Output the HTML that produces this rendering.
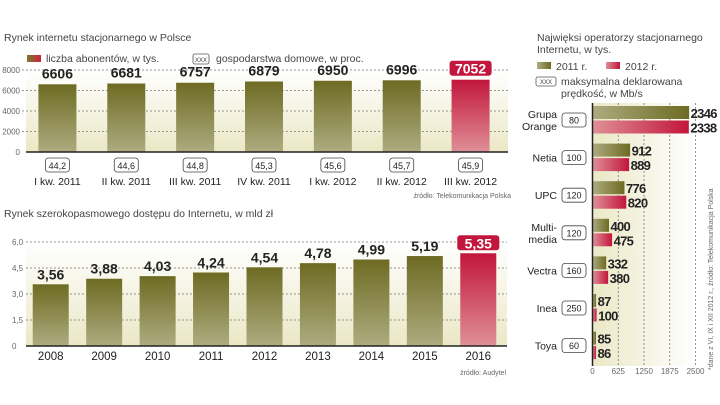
<!DOCTYPE html>
<html><head><meta charset="utf-8">
<style>
html,body{margin:0;padding:0;background:#fff;}
svg{display:block;font-family:"Liberation Sans","DejaVu Sans",sans-serif;}
.t{fill:#444;font-size:10.5px;}
.tick{fill:#666;font-size:8px;}
.val{fill:#222;font-size:14px;font-weight:bold;}
.val3{fill:#222;font-size:13px;font-weight:bold;letter-spacing:-0.7px;}
.cat{fill:#222;font-size:10.5px;}
</style></head>
<body>
<svg id="c" width="720" height="405" viewBox="0 0 720 405">
<defs>
<linearGradient id="gOl" x1="0" y1="0" x2="0" y2="1"><stop offset="0" stop-color="#6d6b22"/><stop offset="1" stop-color="#aeac80"/></linearGradient>
<linearGradient id="gRd" x1="0" y1="0" x2="0" y2="1"><stop offset="0" stop-color="#c2163c"/><stop offset="1" stop-color="#df9098"/></linearGradient>
<linearGradient id="hOl" x1="0" y1="0" x2="1" y2="0"><stop offset="0" stop-color="#aeac80"/><stop offset="1" stop-color="#6d6b22"/></linearGradient>
<linearGradient id="hRd" x1="0" y1="0" x2="1" y2="0"><stop offset="0" stop-color="#df9098"/><stop offset="1" stop-color="#c2163c"/></linearGradient>
<linearGradient id="bg" x1="0" y1="0" x2="0" y2="1"><stop offset="0" stop-color="#ffffff"/><stop offset="1" stop-color="#ebe8c6"/></linearGradient>
<linearGradient id="bgH" x1="0" y1="0" x2="1" y2="0"><stop offset="0" stop-color="#ebe8c6"/><stop offset="1" stop-color="#ffffff"/></linearGradient>
<linearGradient id="lg" x1="0" y1="0" x2="1" y2="0"><stop offset="0" stop-color="#7a7a30"/><stop offset="1" stop-color="#d0203f"/></linearGradient>
</defs>
<g id="g1"></g>
<g id="g2"></g>
<g id="g3"></g>
</svg>
<script>
const q1Cats=["I kw. 2011","II kw. 2011","III kw. 2011","IV kw. 2011","I kw. 2012","II kw. 2012","III kw. 2012"];
const q1Vals=[6606,6681,6757,6879,6950,6996,7052];
const q1Pct=["44,2","44,6","44,8","45,3","45,6","45,7","45,9"];
const q1Ticks=[0,2000,4000,6000,8000];
const yrCats=["2008","2009","2010","2011","2012","2013","2014","2015","2016"];
const yrVals=[3.56,3.88,4.03,4.24,4.54,4.78,4.99,5.19,5.35];
const yrTicks=[0,1.5,3.0,4.5,6.0];
const opCats=[["Grupa","Orange"],["Netia"],["UPC"],["Multi-","media"],["Vectra"],["Inea"],["Toya"]];
const op2011=[2346,912,776,400,332,87,85];
const op2012=[2338,889,820,475,380,100,86];
const opSpeed=["80","100","120","120","160","250","60"];
const opTicks=[0,625,1250,1875,2500];

const NS="http://www.w3.org/2000/svg";
function mk(p,tag,a,txt){const e=document.createElementNS(NS,tag);for(const k in a)e.setAttribute(k,a[k]);if(txt!==undefined)e.textContent=txt;p.appendChild(e);return e;}
function fmt(v,d){return v.toFixed(d).replace('.',',');}

// Chart 1
(function(){
const g=document.getElementById('g1');
const x0=26,x1=508,y0=152,yT=70,max=8000;
const y=v=>y0-(v/max)*(y0-yT);
const step=(x1-x0)/q1Cats.length;
const cx=i=>x0+step*(i+0.5)-3;
let e=mk(g,'text',{x:4,y:41,class:'t'},'Rynek internetu stacjonarnego w Polsce');

e=mk(g,'rect',{x:27,y:55,width:14,height:7,fill:'url(#lg)'});

e=mk(g,'text',{x:46,y:62,class:'t'},'liczba abonentów, w tys.');

e=mk(g,'rect',{x:193,y:54,width:16,height:10,rx:2,fill:'#fff',stroke:'#555','stroke-width':0.8});

mk(g,'text',{x:201,y:62,'font-size':6,'text-anchor':'middle',fill:'#333'},'XXX');
e=mk(g,'text',{x:216,y:62,class:'t'},'gospodarstwa domowe, w proc.');

e=mk(g,'rect',{x:x0,y:yT,width:x1-x0,height:y0-yT,fill:'url(#bg)'});

q1Ticks.forEach(t=>{
 if(t>0){const l=mk(g,'line',{x1:x0-4,x2:x1,y1:y(t),y2:y(t),stroke:'#777','stroke-dasharray':'2,2','stroke-width':0.8});
 }
 const tx=mk(g,'text',{x:20,y:y(t)+3,class:'tick','text-anchor':'end'},String(t));
 
});
q1Vals.forEach((v,i)=>{
 const last=i===q1Vals.length-1;
 const r=mk(g,'rect',{x:cx(i)-19,y:y(v),width:38,height:y0-y(v),fill:last?'url(#gRd)':'url(#gOl)'});
 
 if(last){const b=mk(g,'rect',{x:cx(i)-21,y:y(v)-19,width:42,height:15,rx:3,fill:'#c2163c'});
  }
 const t=mk(g,'text',{x:cx(i),y:y(v)-6,class:'val','text-anchor':'middle'},String(v));
 if(last)t.setAttribute('style','fill:#fff');
 
 const bx=mk(g,'rect',{x:cx(i)-12,y:158,width:24,height:14,rx:3,fill:'#fff',stroke:'#444','stroke-width':0.8});
 
 const pt=mk(g,'text',{x:cx(i),y:169,'font-size':9,fill:'#222','text-anchor':'middle'},q1Pct[i]);
 
 const ct=mk(g,'text',{x:cx(i),y:185,class:'cat','text-anchor':'middle'},q1Cats[i]);
 
});
e=mk(g,'line',{x1:x0,x2:x1,y1:y0,y2:y0,stroke:'#222','stroke-width':1.5});

e=mk(g,'text',{x:511,y:198,'font-size':7,fill:'#666','text-anchor':'end'},'źródło: Telekomunikacja Polska');

})();

// Chart 2
(function(){
const g=document.getElementById('g2');
const x0=26,x1=507,y0=346,yT=242,max=6;
const y=v=>y0-(v/max)*(y0-yT);
const step=(x1-x0)/yrCats.length;
const cx=i=>x0+step*(i+0.5)-2;
let e=mk(g,'text',{x:4,y:217,class:'t'},'Rynek szerokopasmowego dostępu do Internetu, w mld zł');

e=mk(g,'rect',{x:x0,y:yT,width:x1-x0,height:y0-yT,fill:'url(#bg)'});

yrTicks.forEach(t=>{
 if(t>0){const l=mk(g,'line',{x1:x0,x2:x1,y1:y(t),y2:y(t),stroke:'#777','stroke-dasharray':'2,2','stroke-width':0.8});
 }
 const tx=mk(g,'text',{x:12,y:y(t)+3,class:'tick'},t===0?'0':fmt(t,1));
 
});
yrVals.forEach((v,i)=>{
 const last=i===yrVals.length-1;
 const r=mk(g,'rect',{x:cx(i)-18,y:y(v),width:36,height:y0-y(v),fill:last?'url(#gRd)':'url(#gOl)'});
 
 if(last){const b=mk(g,'rect',{x:cx(i)-21,y:y(v)-18,width:42,height:15,rx:3,fill:'#c2163c'});
  }
 const t=mk(g,'text',{x:cx(i),y:y(v)-5,class:'val','text-anchor':'middle'},fmt(v,2));
 if(last)t.setAttribute('style','fill:#fff');
 
 const ct=mk(g,'text',{x:cx(i),y:360,'font-size':11.5,fill:'#222','text-anchor':'middle'},yrCats[i]);
 
});
e=mk(g,'line',{x1:x0,x2:x1,y1:y0,y2:y0,stroke:'#222','stroke-width':1.5});

e=mk(g,'text',{x:506,y:375,'font-size':7,fill:'#666','text-anchor':'end'},'źródło: Audytel');

})();

// Chart 3
(function(){
const g=document.getElementById('g3');
const x0=592.5,xE=695.5,max=2500,yTop=103,yBot=366;
const x=v=>x0+(v/max)*(xE-x0);
const rowH=37.6,r0=106;
let e=mk(g,'text',{x:537,y:41,class:'t'},'Najwięksi operatorzy stacjonarnego');

mk(g,'text',{x:537,y:53,class:'t'},'Internetu, w tys.');
e=mk(g,'rect',{x:537,y:62,width:14,height:7,fill:'url(#hOl)'});

e=mk(g,'text',{x:556,y:70,class:'t'},'2011 r.');

e=mk(g,'rect',{x:606,y:62,width:14,height:7,fill:'url(#hRd)'});

e=mk(g,'text',{x:625,y:70,class:'t'},'2012 r.');

e=mk(g,'rect',{x:536,y:77,width:20,height:9,rx:2,fill:'#fff',stroke:'#555','stroke-width':0.8});

mk(g,'text',{x:546,y:84,'font-size':6,fill:'#333','text-anchor':'middle'},'XXX');
e=mk(g,'text',{x:561,y:85,class:'t'},'maksymalna deklarowana');

mk(g,'text',{x:561,y:97,class:'t'},'prędkość, w Mb/s');
e=mk(g,'rect',{x:x0,y:yTop,width:xE-x0,height:yBot-yTop,fill:'url(#bgH)'});

opTicks.forEach(t=>{
 if(t>0){const l=mk(g,'line',{x1:x(t),x2:x(t),y1:yTop,y2:yBot,stroke:'#777','stroke-dasharray':'2,2','stroke-width':0.8});
 }
 const tx=mk(g,'text',{x:x(t),y:374,class:'tick','text-anchor':'middle'},String(t));
 
});
opCats.forEach((c,i)=>{
 const ry=r0+rowH*i;
 const b1=mk(g,'rect',{x:x0,y:ry,width:x(op2011[i])-x0,height:13,fill:'url(#hOl)'});
 
 const b2=mk(g,'rect',{x:x0,y:ry+14.5,width:x(op2012[i])-x0,height:13,fill:'url(#hRd)'});
 
 const v1=mk(g,'text',{x:x(op2011[i])+1.5,y:ry+12,class:'val3'},String(op2011[i]));
 
 const v2=mk(g,'text',{x:x(op2012[i])+1.5,y:ry+26.5,class:'val3'},String(op2012[i]));
 
 const mid=ry+14;
 if(c.length===2){
  const a=mk(g,'text',{x:557,y:mid-2,class:'cat','text-anchor':'end'},c[0]);
  
  mk(g,'text',{x:557,y:mid+10,class:'cat','text-anchor':'end'},c[1]);
 } else {
  const a=mk(g,'text',{x:557,y:mid+4,class:'cat','text-anchor':'end'},c[0]);
  
 }
 const bx=mk(g,'rect',{x:562,y:mid-7,width:24,height:14,rx:3,fill:'#fff',stroke:'#444','stroke-width':0.8});
 
 const st=mk(g,'text',{x:574,y:mid+3.5,'font-size':9,fill:'#222','text-anchor':'middle'},opSpeed[i]);
 
});
e=mk(g,'line',{x1:x0,x2:x0,y1:yTop,y2:yBot,stroke:'#222','stroke-width':1.5});

e=mk(g,'text',{x:0,y:0,'font-size':7,fill:'#666',transform:'translate(713,370) rotate(-90)'},'*dane z VI, IX i XII 2012 r., źródło: Telekomunikacja Polska');

})();
</script>
</body></html>
